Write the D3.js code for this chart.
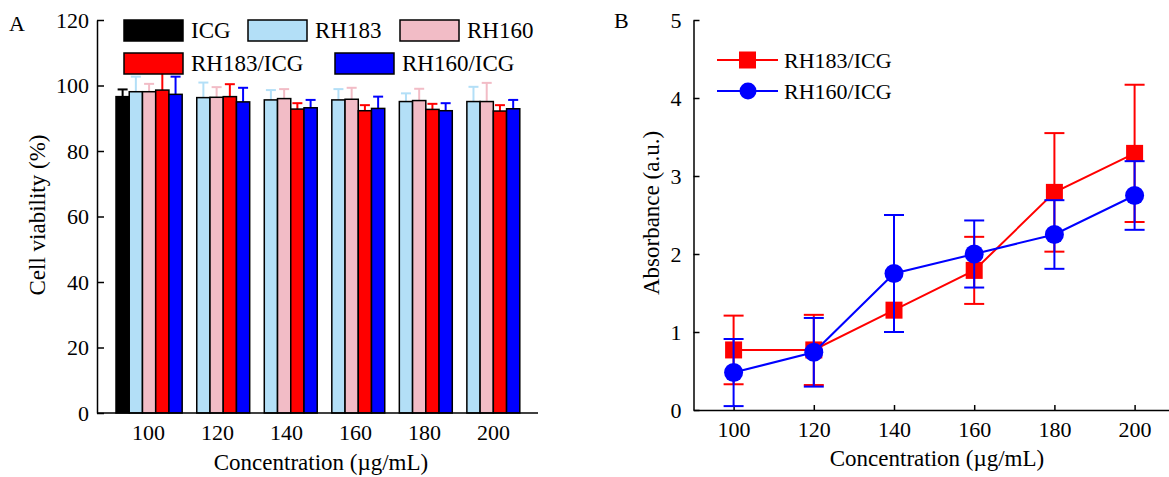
<!DOCTYPE html>
<meta charset="utf-8">
<style>
body { margin: 0; background: #fff; }
svg text { font-family: "Liberation Serif", "Times New Roman", serif; fill: #000; }
</style>
<body>
<svg id="chart" width="1169" height="477"></svg>
<script src="https://d3js.org/d3.v7.min.js"></script>
<script>

// ---------- data ----------
var concentrations = [100, 120, 140, 160, 180, 200];
var barSeries = ["ICG", "RH183", "RH160", "RH183/ICG", "RH160/ICG"];
var barColors = ["#000000", "#b3dff7", "#f2bcc6", "#ff0000", "#0000ff"];

var viabICG      = [96.6, null, null, null, null, null];
var viabICGsd    = [2.2, null, null, null, null, null];
var viabRH183    = [98.1, 96.3, 95.6, 95.6, 95.1, 95.1];
var viabRH183sd  = [4.6, 4.6, 3.0, 3.3, 2.5, 4.5];
var viabRH160    = [98.1, 96.4, 96.0, 95.8, 95.4, 95.1];
var viabRH160sd  = [2.4, 3.1, 2.9, 3.5, 3.6, 5.7];
var viabRH183I   = [98.6, 96.6, 92.8, 92.3, 92.7, 92.2];
var viabRH183Isd = [6.5, 3.8, 1.8, 1.7, 1.7, 1.8];
var viabRH160I   = [97.3, 95.0, 93.2, 93.0, 92.3, 92.9];
var viabRH160Isd = [5.4, 4.3, 2.4, 3.6, 2.3, 2.7];

var viabTicks = [0, 20, 40, 60, 80, 100, 120];

var absRH183I   = [0.77, 0.77, 1.28, 1.79, 2.79, 3.29];
var absRH183Isd = [0.44, 0.45, 0, 0.43, 0.76, 0.88];
var absRH160I   = [0.48, 0.74, 1.75, 2.00, 2.25, 2.75];
var absRH160Isd = [0.43, 0.44, 0.75, 0.43, 0.44, 0.44];
var absTicks = [0, 1, 2, 3, 4, 5];

var barMeans = [viabICG, viabRH183, viabRH160, viabRH183I, viabRH160I];
var barSds   = [viabICGsd, viabRH183sd, viabRH160sd, viabRH183Isd, viabRH160Isd];

var svg = d3.select("#chart");
var fs = "22px";

// ---------- panel A ----------
var A = {left: 97, right: 538, top: 20, bottom: 413};

var yA = d3.scaleLinear().domain([0, 120]).range([A.bottom, A.top]);
var x0 = d3.scaleBand().domain(concentrations).range([116, 116 + 67.3 * 6]).paddingInner(0.02);
var x1 = d3.scaleBand().domain(barSeries).range([0, x0.bandwidth()]);
var xLab = d3.scalePoint().domain(concentrations).range([148, 493]);

var barData = [];
barSeries.forEach(function(s, si) {
  concentrations.forEach(function(c, ci) {
    if (barMeans[si][ci] != null)
      barData.push({conc: c, key: s, color: barColors[si], v: barMeans[si][ci], sd: barSds[si][ci]});
  });
});

var gA = svg.append("g");

// error bars (upper only)
var eb = gA.selectAll(".errA").data(barData).enter().append("g")
    .attr("stroke", function(d) { return d.color; })
    .attr("stroke-width", 2);
eb.append("line")
    .attr("x1", function(d) { return x0(d.conc) + x1(d.key) + x1.bandwidth() / 2; })
    .attr("x2", function(d) { return x0(d.conc) + x1(d.key) + x1.bandwidth() / 2; })
    .attr("y1", function(d) { return yA(d.v); })
    .attr("y2", function(d) { return yA(d.v + d.sd); });
eb.append("line")
    .attr("x1", function(d) { return x0(d.conc) + x1(d.key) + x1.bandwidth() / 2 - 5; })
    .attr("x2", function(d) { return x0(d.conc) + x1(d.key) + x1.bandwidth() / 2 + 5; })
    .attr("y1", function(d) { return yA(d.v + d.sd); })
    .attr("y2", function(d) { return yA(d.v + d.sd); });

gA.selectAll(".bar").data(barData).enter().append("rect")
    .attr("x", function(d) { return x0(d.conc) + x1(d.key); })
    .attr("y", function(d) { return yA(d.v); })
    .attr("width", x1.bandwidth())
    .attr("height", function(d) { return yA(0) - yA(d.v); })
    .attr("fill", function(d) { return d.color; })
    .attr("stroke", "#000")
    .attr("stroke-width", 1.5);

// y axis
var axA = gA.append("g")
    .attr("transform", "translate(" + A.left + ",0)")
    .call(d3.axisLeft(yA).tickValues(viabTicks).tickSizeInner(-7).tickSizeOuter(0).tickPadding(8));
// x axis labels
var axAx = gA.append("g")
    .attr("transform", "translate(0," + A.bottom + ")")
    .call(d3.axisBottom(xLab).tickSize(0).tickPadding(11.5));
axAx.select(".domain").remove();
gA.append("line")
    .attr("x1", A.left).attr("x2", A.right)
    .attr("y1", A.bottom).attr("y2", A.bottom)
    .attr("stroke", "#000").attr("stroke-width", 1.5);

gA.append("text").attr("x", 321).attr("y", 470).attr("text-anchor", "middle")
    .style("font-size", "23px").text("Concentration (\u00b5g/mL)");
gA.append("text").attr("transform", "translate(45,215) rotate(-90)").attr("text-anchor", "middle")
    .style("font-size", "23px").text("Cell viability (%)");
gA.append("text").attr("x", 9).attr("y", 31).style("font-size", "22px").text("A");

// legend A
var legA = [[124, 20], [248, 20], [400, 20], [124, 53], [335, 53]];
var lg = gA.selectAll(".legA").data(barSeries).enter().append("g")
    .attr("transform", function(d, i) { return "translate(" + legA[i][0] + "," + legA[i][1] + ")"; });
lg.append("rect").attr("width", 59).attr("height", 21)
    .attr("fill", function(d, i) { return barColors[i]; })
    .attr("stroke", "#000").attr("stroke-width", 1.5);
lg.append("text").attr("x", 67).attr("y", 18).style("font-size", "23px").text(function(d) { return d; });

// ---------- panel B ----------
var B = {left: 693.5, top: 20, bottom: 410};
var xB = d3.scaleLinear().domain([90, 210]).range([693.5, 1174.7]);
var yB = d3.scaleLinear().domain([0, 5]).range([B.bottom, B.top]);

var gB = svg.append("g");
var axBy = gB.append("g").attr("transform", "translate(" + B.left + ",0)")
    .call(d3.axisLeft(yB).tickValues(absTicks).tickFormat(d3.format("d"))
      .tickSizeInner(-6).tickSizeOuter(0).tickPadding(12));
var axBx = gB.append("g").attr("transform", "translate(0," + B.bottom + ")")
    .call(d3.axisBottom(xB).tickValues(concentrations).tickSizeInner(-5).tickSizeOuter(0).tickPadding(11));

[axA, axAx, axBy, axBx].forEach(function(a) {
  a.selectAll("text").style("font-size", fs).style("font-family", "Liberation Serif");
  a.selectAll("path, line").attr("stroke", "#000").attr("stroke-width", 1.5);
});

var line = d3.line().x(function(d) { return xB(d.c); }).y(function(d) { return yB(d.v); });

function drawSeries(means, sds, color, shape) {
  var pts = concentrations.map(function(c, i) { return {c: c, v: means[i], sd: sds[i]}; });
  var g = gB.append("g");
  g.append("path").datum(pts).attr("d", line).attr("fill", "none")
      .attr("stroke", color).attr("stroke-width", 2);
  var e = g.selectAll(".err").data(pts.filter(function(d) { return d.sd > 0; })).enter().append("g")
      .attr("stroke", color).attr("stroke-width", 2);
  e.append("line").attr("x1", function(d) { return xB(d.c); }).attr("x2", function(d) { return xB(d.c); })
      .attr("y1", function(d) { return yB(d.v - d.sd); }).attr("y2", function(d) { return yB(d.v + d.sd); });
  [-1, 1].forEach(function(s) {
    e.append("line").attr("x1", function(d) { return xB(d.c) - 10; }).attr("x2", function(d) { return xB(d.c) + 10; })
        .attr("y1", function(d) { return yB(d.v + s * d.sd); }).attr("y2", function(d) { return yB(d.v + s * d.sd); });
  });
  if (shape === "square") {
    g.selectAll(".m").data(pts).enter().append("rect")
        .attr("x", function(d) { return xB(d.c) - 8.5; }).attr("y", function(d) { return yB(d.v) - 8.5; })
        .attr("width", 17).attr("height", 17).attr("fill", color);
  } else {
    g.selectAll(".m").data(pts).enter().append("circle")
        .attr("cx", function(d) { return xB(d.c); }).attr("cy", function(d) { return yB(d.v); })
        .attr("r", 9.5).attr("fill", color);
  }
}
drawSeries(absRH183I, absRH183Isd, "#ff0000", "square");
drawSeries(absRH160I, absRH160Isd, "#0000ff", "circle");

gB.append("text").attr("x", 937).attr("y", 466).attr("text-anchor", "middle")
    .style("font-size", "23px").text("Concentration (\u00b5g/mL)");
gB.append("text").attr("transform", "translate(659,213) rotate(-90)").attr("text-anchor", "middle")
    .style("font-size", "23px").text("Absorbance (a.u.)");
gB.append("text").attr("x", 614).attr("y", 28).style("font-size", "22px").text("B");

// legend B
var legB = [{name: "RH183/ICG", color: "#ff0000", shape: "square", y: 60},
            {name: "RH160/ICG", color: "#0000ff", shape: "circle", y: 91}];
var lb = gB.selectAll(".legB").data(legB).enter().append("g")
    .attr("transform", function(d) { return "translate(717," + d.y + ")"; });
lb.append("line").attr("x1", 0).attr("x2", 61).attr("stroke", function(d) { return d.color; }).attr("stroke-width", 2);
lb.filter(function(d) { return d.shape === "square"; }).append("rect")
    .attr("x", 22).attr("y", -8.5).attr("width", 17).attr("height", 17).attr("fill", function(d) { return d.color; });
lb.filter(function(d) { return d.shape === "circle"; }).append("circle")
    .attr("cx", 31).attr("r", 8.5).attr("fill", function(d) { return d.color; });
lb.append("text").attr("x", 67).attr("y", 8).style("font-size", "22px").text(function(d) { return d.name; });

</script>
</body>
